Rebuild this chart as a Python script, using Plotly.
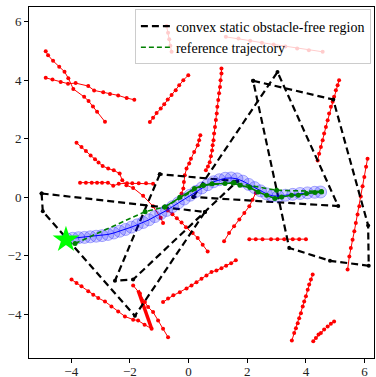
import plotly.graph_objects as go

# ---------------- data ----------------
# convex static obstacle-free regions (polygon vertices, closed)
poly1_x = [-5.01, -4.97, -1.83, 0.56, -5.01]
poly1_y = [0.13, -0.48, -4.05, -0.50, 0.13]
poly2_x = [-0.98, -2.51, -1.89, 0.56, 1.66, -0.98]
poly2_y = [0.79, -2.85, -2.81, -0.50, 0.55, 0.79]
poly3_x = [2.20, 4.93, 6.12, 6.14, 4.82, 3.43, 2.20]
poly3_y = [3.98, 3.34, -0.96, -2.34, -2.17, -1.73, 3.98]
poly4_x = [0.16, 3.03, 5.10, 0.16]
poly4_y = [0.01, 4.28, -0.30, 0.01]

# dynamic obstacle predicted paths (red dotted lines)
r1_x = [-4.87, -4.79, -4.62, -4.41, -4.23, -4.10, -3.93, -3.56, -3.41, -3.26, -3.12, -2.85]
r1_y = [4.99, 4.85, 4.66, 4.46, 4.29, 4.07, 3.70, 3.43, 3.29, 3.10, 2.92, 2.58]
r2_x = [-4.87, -4.64, -4.36, -4.11, -3.85, -3.42, -3.22, -2.91, -2.68, -2.40, -2.11, -1.85]
r2_y = [4.08, 4.02, 3.94, 3.88, 3.90, 3.80, 3.65, 3.59, 3.53, 3.48, 3.39, 3.33]
r3_x = [-3.82, -3.65, -3.50, -3.34, -3.19, -3.07, -2.93, -2.74, -2.55, -2.35, -2.26, -2.12, -1.89, -1.55, -1.21, -0.95, -0.87]
r3_y = [1.86, 1.72, 1.58, 1.43, 1.30, 1.19, 1.07, 0.98, 0.92, 0.81, 0.58, 0.41, 0.32, 0.05, -0.31, -0.70, -0.88]
r4_x = [-3.70, -3.50, -3.30, -3.12, -2.95, -2.75, -2.57, -2.38, -2.10, -1.92, -1.70, -1.45, -1.21]
r4_y = [0.50, 0.50, 0.50, 0.50, 0.50, 0.50, 0.39, 0.46, 0.48, 0.48, 0.48, 0.48, 0.46]
r5_x = [-1.32, -1.21, -1.09, -0.95, -0.83, -0.71, -0.58, -0.44, -0.32, -0.18, -0.01]
r5_y = [2.57, 2.72, 2.88, 3.03, 3.18, 3.34, 3.49, 3.66, 3.83, 4.00, 4.17]
r6_x = [1.12, 1.12, 1.09, 1.07, 1.04, 1.01, 0.98, 0.96, 0.93, 0.90, 0.87, 0.85, 0.82, 0.80, 0.76, 0.72, 0.66, 0.59]
r6_y = [4.40, 4.23, 4.00, 3.77, 3.55, 3.32, 3.09, 2.86, 2.64, 2.40, 2.18, 1.95, 1.78, 1.60, 1.40, 1.20, 1.05, 0.92]
r7_x = [0.40, 0.36, 0.31, 0.19, 0.08, 0.02, -0.07, -0.13, -0.16, -0.18, -0.24]
r7_y = [2.12, 1.95, 1.78, 1.55, 1.32, 1.15, 0.98, 0.75, 0.52, 0.30, 0.13]
r8_x = [-0.71, -0.55, -0.40, -0.24, -0.09, 0.14, 0.31, 0.48, 0.65]
r8_y = [-0.45, -0.58, -0.72, -0.86, -1.02, -1.22, -1.39, -1.62, -1.85]
r9_x = [1.21, 1.38, 1.55, 1.73, 1.90, 2.07, 2.18, 2.29]
r9_y = [-1.50, -1.22, -0.99, -0.76, -0.54, -0.31, -0.08, 0.15]
r10_x = [5.13, 5.08, 5.02, 4.96, 4.91, 4.85, 4.79, 4.74, 4.68, 4.62, 4.57, 4.51, 4.45, 4.40]
r10_y = [4.00, 3.83, 3.66, 3.43, 3.26, 3.09, 2.86, 2.63, 2.40, 2.18, 1.95, 1.72, 1.49, 1.26]
r11_x = [6.10, 6.05, 5.99, 5.93, 5.87, 5.82, 5.76, 5.70, 5.65, 5.59, 5.53, 5.48, 5.42]
r11_y = [1.32, 1.04, 0.69, 0.38, 0.03, -0.31, -0.59, -0.88, -1.16, -1.45, -1.73, -2.02, -2.47]
r12_x = [2.07, 2.29, 2.52, 2.81, 3.03, 3.26, 3.55, 3.77, 4.00]
r12_y = [-1.43, -1.43, -1.43, -1.43, -1.43, -1.43, -1.43, -1.43, -1.43]
r13_x = [4.23, 4.17, 4.11, 4.06, 4.00, 3.94, 3.89, 3.83, 3.77, 3.72, 3.66, 3.60, 3.52]
r13_y = [-2.64, -2.81, -2.98, -3.16, -3.38, -3.56, -3.73, -3.96, -4.13, -4.30, -4.47, -4.64, -4.89]
r14_x = [4.96, 4.85, 4.74, 4.62, 4.51, 4.43, 4.34, 4.25]
r14_y = [-4.24, -4.32, -4.41, -4.52, -4.64, -4.69, -4.81, -4.92]
r15_x = [-0.87, -0.70, -0.52, -0.30, -0.07, 0.10, 0.27, 0.44, 0.61, 0.78, 0.95, 1.12, 1.28, 1.45, 1.61]
r15_y = [-3.58, -3.46, -3.35, -3.24, -3.12, -3.01, -2.90, -2.78, -2.67, -2.55, -2.50, -2.42, -2.34, -2.25, -2.15]
r16_x = [-3.99, -3.82, -3.65, -3.42, -3.25, -3.08, -2.85, -2.63, -2.40, -2.17, -1.89, -1.72, -1.50, -1.26]
r16_y = [-2.81, -2.93, -3.04, -3.21, -3.33, -3.44, -3.56, -3.73, -3.90, -4.07, -4.18, -4.21, -4.35, -4.49]
r17_x = [-1.89, -1.66, -1.49, -1.38, -1.21, -1.04, -0.87, -0.70]
r17_y = [-3.01, -3.29, -3.58, -3.75, -3.92, -4.21, -4.49, -4.78]
r18_x = [-0.75, -0.70, -0.66, -0.62, -0.58]
r18_y = [5.85, 5.62, 5.40, 5.18, 4.97]
r19_x = [1.27, 1.70, 2.10, 2.50, 2.90, 3.30, 3.70, 4.10, 4.57]
r19_y = [5.48, 5.42, 5.35, 5.28, 5.22, 5.15, 5.08, 5.02, 4.97]
thick_x = [-1.72, -1.26]
thick_y = [-3.18, -4.49]

red_paths = [(r1_x, r1_y), (r2_x, r2_y), (r3_x, r3_y), (r4_x, r4_y), (r5_x, r5_y),
             (r6_x, r6_y), (r7_x, r7_y), (r8_x, r8_y), (r9_x, r9_y), (r10_x, r10_y),
             (r11_x, r11_y), (r12_x, r12_y), (r13_x, r13_y), (r14_x, r14_y),
             (r15_x, r15_y), (r16_x, r16_y), (r17_x, r17_y), (r18_x, r18_y), (r19_x, r19_y)]

# robot trajectory (circle footprints)
robot_x = [-4.15, -3.95, -3.75, -3.55, -3.35, -3.15, -2.95, -2.75, -2.55, -2.35, -2.15,
           -1.95, -1.75, -1.55, -1.35, -1.15, -0.95, -0.75, -0.55, -0.35, -0.15, 0.05,
           0.25, 0.45, 0.65, 0.85, 1.05, 1.25, 1.45, 1.65, 1.85, 2.05, 2.25, 2.45, 2.65,
           2.85, 3.05, 3.30, 3.55, 3.80, 4.05, 4.30, 4.50]
robot_y = [-1.42, -1.40, -1.38, -1.37, -1.35, -1.33, -1.31, -1.27, -1.22, -1.16, -1.10,
           -1.02, -0.94, -0.86, -0.77, -0.66, -0.56, -0.45, -0.32, -0.19, -0.06, 0.07,
           0.20, 0.32, 0.43, 0.53, 0.60, 0.65, 0.66, 0.63, 0.55, 0.44, 0.33, 0.22, 0.12,
           0.05, 0.04, 0.07, 0.10, 0.13, 0.15, 0.17, 0.18]

# reference trajectory (green dashed) and local path (green solid)
ref_x = [-3.87, -1.48, -0.81, 0.50, 1.55, 3.00, 4.53]
ref_y = [-1.58, -0.49, -0.33, 0.41, 0.50, 0.24, 0.20]
path_x = [-0.81, -0.30, 0.20, 0.50, 0.80, 1.24, 1.52, 1.75, 2.09, 2.37, 2.66, 2.94, 3.17,
          3.51, 3.74, 4.02, 4.31, 4.53]
path_y = [-0.33, 0.00, 0.30, 0.41, 0.46, 0.47, 0.49, 0.41, 0.33, 0.18, 0.07, -0.04, 0.01,
          0.07, 0.07, 0.13, 0.16, 0.18]
start_x = [-4.18]
start_y = [-1.45]

x_ticks = [-4, -2, 0, 2, 4, 6]
y_ticks = [-4, -2, 0, 2, 4, 6]

# ---------------- figure ----------------
fig = go.Figure()
FONT = "Liberation Serif, Times New Roman, serif"

for rx, ry in red_paths:
    fig.add_trace(go.Scatter(x=rx, y=ry, mode="lines+markers",
                             line=dict(color="red", width=1),
                             marker=dict(color="red", size=4),
                             showlegend=False, hoverinfo="skip"))
fig.add_trace(go.Scatter(x=thick_x, y=thick_y, mode="lines",
                         line=dict(color="red", width=3.5),
                         showlegend=False, hoverinfo="skip"))

polys = [(poly1_x, poly1_y), (poly2_x, poly2_y), (poly3_x, poly3_y), (poly4_x, poly4_y)]
for i, (px, py) in enumerate(polys):
    fig.add_trace(go.Scatter(x=px, y=py, mode="lines+markers",
                             line=dict(color="black", width=2.2, dash="7px,4px"),
                             marker=dict(color="black", size=4),
                             name="convex static obstacle-free region",
                             showlegend=False, hoverinfo="skip"))
# legend entry for regions
fig.add_trace(go.Scatter(x=[None], y=[None], mode="lines",
                         line=dict(color="black", width=2.2, dash="7px,4px"),
                         name="convex static obstacle-free region"))

fig.add_trace(go.Scatter(x=robot_x, y=robot_y, mode="markers",
                         marker=dict(size=12, color="rgba(0,0,255,0.18)",
                                     line=dict(color="rgba(0,0,255,0.3)", width=1)),
                         showlegend=False, hoverinfo="skip"))
fig.add_trace(go.Scatter(x=robot_x, y=robot_y, mode="lines",
                         line=dict(color="blue", width=1),
                         showlegend=False, hoverinfo="skip"))

fig.add_trace(go.Scatter(x=ref_x, y=ref_y, mode="lines+markers",
                         line=dict(color="green", width=1.6, dash="5px,3px"),
                         marker=dict(color="green", size=5),
                         showlegend=False, hoverinfo="skip"))
fig.add_trace(go.Scatter(x=path_x, y=path_y, mode="lines+markers",
                         line=dict(color="green", width=1.6),
                         marker=dict(color="green", size=5),
                         showlegend=False, hoverinfo="skip"))
fig.add_trace(go.Scatter(x=[None], y=[None], mode="lines",
                         line=dict(color="green", width=1.6, dash="5px,3px"),
                         name="reference trajectory"))

fig.add_trace(go.Scatter(x=start_x, y=start_y, mode="markers",
                         marker=dict(symbol="star", size=20, color="#00ff00",
                                     line=dict(width=0)),
                         showlegend=False, hoverinfo="skip"))

fig.update_layout(
    width=376, height=377,
    margin=dict(l=29, r=2, t=7, b=19, autoexpand=False),
    plot_bgcolor="white", paper_bgcolor="white",
    font=dict(family=FONT, size=14, color="black"),
    legend=dict(x=0.991, y=0.993, xanchor="right", yanchor="top",
                bgcolor="rgba(255,255,255,0.8)", bordercolor="#cccccc", borderwidth=1,
                font=dict(family=FONT, size=14, color="black"),
                itemwidth=30, tracegroupgap=0),
)
fig.update_xaxes(range=[-5.44, 6.32], tickvals=x_ticks, ticks="outside", ticklen=4,
                 tickcolor="black", showline=True, linecolor="black", linewidth=1,
                 mirror=True, showgrid=False, zeroline=False, ticklabelstandoff=-3,
                 tickfont=dict(family=FONT, size=13, color="#222"))
fig.update_yaxes(range=[-5.49, 6.50], tickvals=y_ticks, ticks="outside", ticklen=4,
                 tickcolor="black", showline=True, linecolor="black", linewidth=1,
                 mirror=True, showgrid=False, zeroline=False,
                 tickfont=dict(family=FONT, size=13, color="#222"))

fig.write_html("out.html", config={"displayModeBar": False},
               post_script="document.body.style.margin='0';document.body.style.padding='0';")
